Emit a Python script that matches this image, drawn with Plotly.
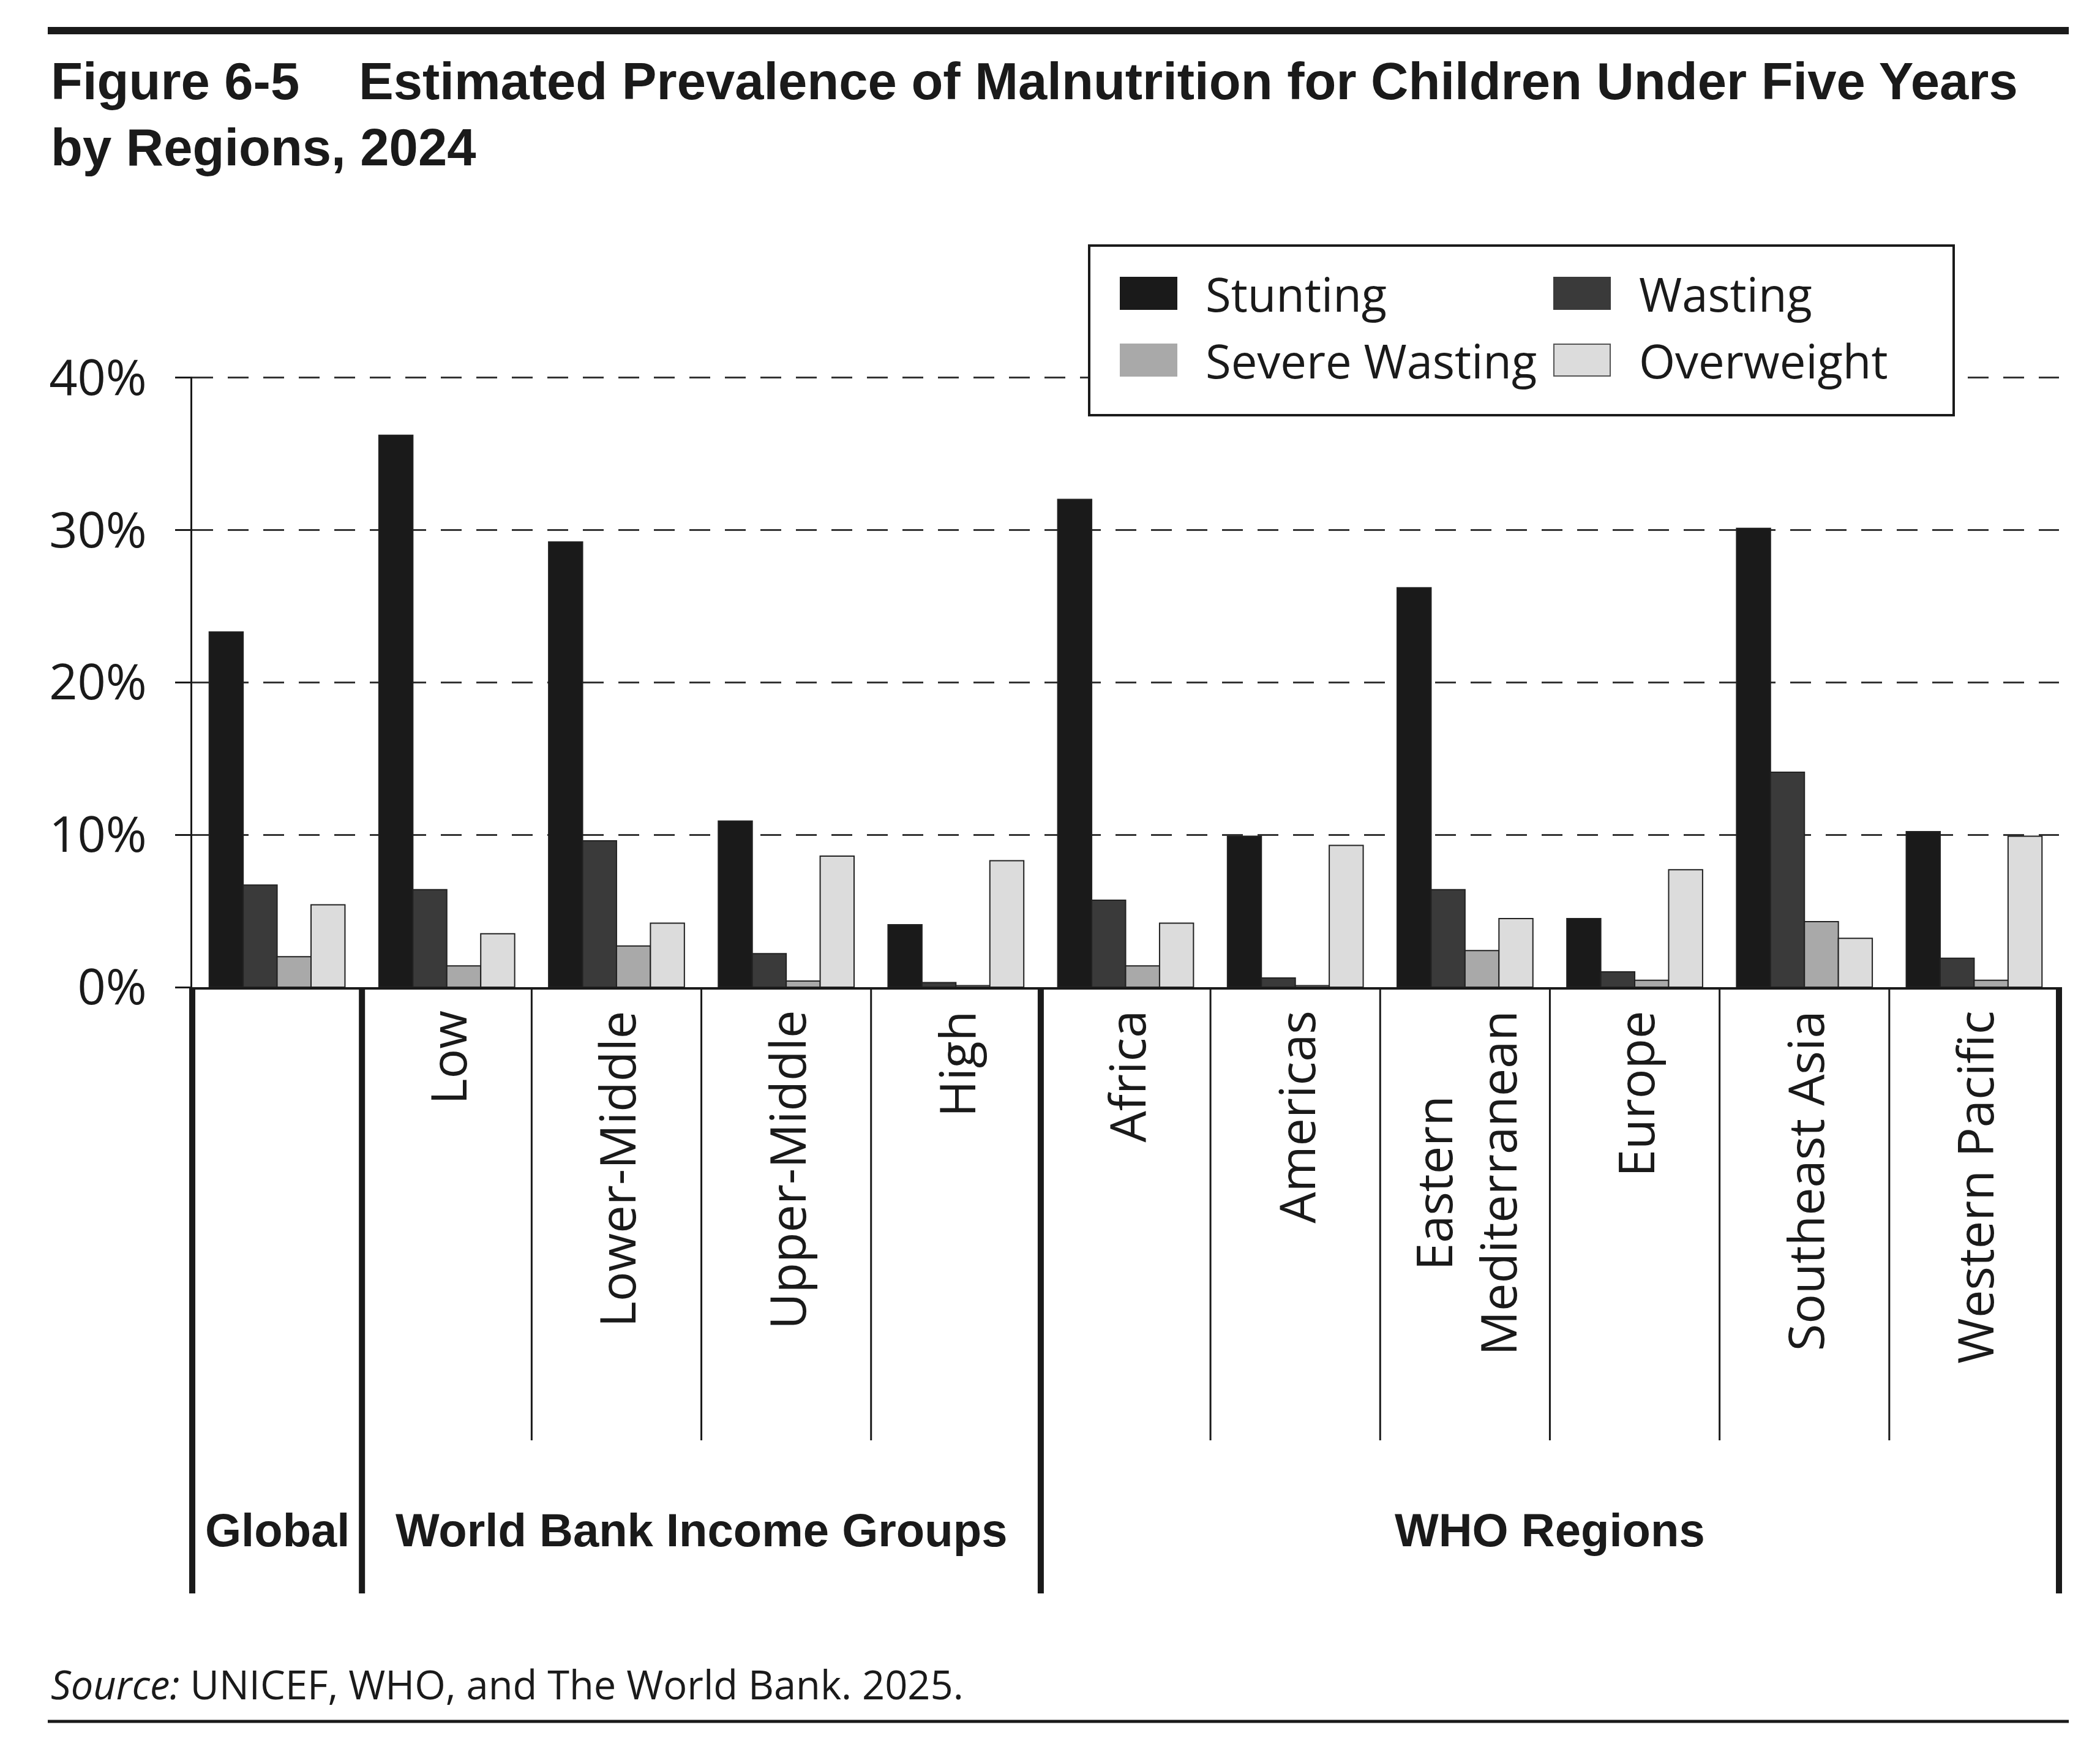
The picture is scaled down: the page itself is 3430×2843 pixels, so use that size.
import plotly.graph_objects as go

# ---------------- data ----------------
CATEGORIES = ["Global", "Low", "Lower-Middle", "Upper-Middle", "High", "Africa",
              "Americas", "Eastern Mediterranean", "Europe", "Southeast Asia", "Western Pacific"]
CAT_LABELS = ["", "Low", "Lower-Middle", "Upper-Middle", "High", "Africa",
              "Americas", "Eastern<br>Mediterranean", "Europe", "Southeast Asia", "Western Pacific"]
STUNTING = [23.3, 36.2, 29.2, 10.9, 4.1, 32.0, 9.9, 26.2, 4.5, 30.1, 10.2]
WASTING = [6.7, 6.4, 9.6, 2.2, 0.3, 5.7, 0.6, 6.4, 1.0, 14.1, 1.9]
SEVERE_WASTING = [2.0, 1.4, 2.7, 0.4, 0.1, 1.4, 0.1, 2.4, 0.45, 4.3, 0.45]
OVERWEIGHT = [5.4, 3.5, 4.2, 8.6, 8.3, 4.2, 9.3, 4.5, 7.7, 3.2, 9.9]
SERIES_NAMES = ["Stunting", "Wasting", "Severe Wasting", "Overweight"]
SERIES_COLORS = ["#1a1a1a", "#3a3a3a", "#a9a9a9", "#dcdcdc"]
Y_TICKS = [0, 10, 20, 30, 40]
Y_TICK_LABELS = ["0%", "10%", "20%", "30%", "40%"]
GROUP_NAMES = ["Global", "World Bank Income Groups", "WHO Regions"]
GROUP_SPANS = [(0, 0), (1, 4), (5, 10)]
TITLE_LABEL = "Figure 6-5"
TITLE_TEXT = "Estimated Prevalence of Malnutrition for Children Under Five Years"
TITLE_LINE2 = "by Regions, 2024"
SOURCE_TEXT = "<i>Source:</i> UNICEF, WHO, and The World Bank. 2025."

# ---------------- layout geometry (pixels) ----------------
W, H = 3430, 2843
PL, PR, PT, PB = 306, 3355, 607, 1604
N = len(CATEGORIES)
INK = "#1a1a1a"
REG = "Open Sans"
BOLD = "Liberation Sans"


def px(x):
    return (x - PL) / (PR - PL)


def py(y):
    return (PB - y) / (PB - PT)


def bx(b):  # category boundary index -> paper x
    return (b + 0.5) / N


series = [STUNTING, WASTING, SEVERE_WASTING, OVERWEIGHT]
fig = go.Figure()
for name, vals, col in zip(SERIES_NAMES, series, SERIES_COLORS):
    fig.add_trace(go.Bar(x=CATEGORIES, y=vals, name=name,
                         marker=dict(color=col, line=dict(color="#222222", width=2))))

shapes = []
# rules
shapes.append(dict(type="line", xref="paper", yref="paper", x0=px(70), x1=px(3371),
                   y0=py(42), y1=py(42), line=dict(color=INK, width=12)))
shapes.append(dict(type="line", xref="paper", yref="paper", x0=px(70), x1=px(3371),
                   y0=py(2803), y1=py(2803), line=dict(color=INK, width=5)))
# separators below axis
thick_b = [GROUP_SPANS[0][0] - 0.5] + [e + 0.5 for (s, e) in GROUP_SPANS]
thin_b = []
for (s, e) in GROUP_SPANS:
    thin_b += [i + 0.5 for i in range(s, e)]
for b in thick_b:
    shapes.append(dict(type="line", xref="paper", yref="paper", x0=bx(b), x1=bx(b),
                       y0=0, y1=py(2594), line=dict(color=INK, width=10)))
for b in thin_b:
    shapes.append(dict(type="line", xref="paper", yref="paper", x0=bx(b), x1=bx(b),
                       y0=0, y1=py(2344), line=dict(color=INK, width=3)))

annotations = []
# title
annotations.append(dict(text=TITLE_LABEL, xref="paper", yref="paper", x=px(73), y=py(125),
                        xanchor="left", yanchor="middle", showarrow=False,
                        font=dict(family=BOLD, size=85, color=INK, weight="bold")))
annotations.append(dict(text=TITLE_TEXT, xref="paper", yref="paper", x=px(576), y=py(125),
                        xanchor="left", yanchor="middle", showarrow=False,
                        font=dict(family=BOLD, size=85, color=INK, weight="bold")))
annotations.append(dict(text=TITLE_LINE2, xref="paper", yref="paper", x=px(73), y=py(233),
                        xanchor="left", yanchor="middle", showarrow=False,
                        font=dict(family=BOLD, size=85, color=INK, weight="bold")))
# category labels
for i, lab in enumerate(CAT_LABELS):
    if not lab:
        continue
    annotations.append(dict(text=lab, xref="x", yref="paper", x=i, y=py(1640),
                            xanchor="center", yanchor="top", textangle=-90, align="center",
                            showarrow=False, font=dict(family=REG, size=81, color=INK)))
# group labels
for gname, (s, e) in zip(GROUP_NAMES, GROUP_SPANS):
    annotations.append(dict(text=gname, xref="x", yref="paper", x=(s + e) / 2, y=py(2490),
                            xanchor="center", yanchor="middle", showarrow=False,
                            font=dict(family=BOLD, size=76, color=INK, weight="bold")))
# source
annotations.append(dict(text=SOURCE_TEXT, xref="paper", yref="paper", x=px(73), y=py(2742),
                        xanchor="left", yanchor="middle", showarrow=False,
                        font=dict(family=REG, size=65, color=INK)))

# custom legend
LX0, LX1, LY0, LY1 = 1771, 3183, 393, 670
shapes.append(dict(type="rect", xref="paper", yref="paper", x0=px(LX0), x1=px(LX1),
                   y0=py(LY1), y1=py(LY0), fillcolor="white", line=dict(color=INK, width=4)))
leg_pos = [(1822, 1959, 471), (2530, 2667, 471), (1822, 1959, 580), (2530, 2667, 580)]
for (sx, tx, cy), name, col in zip(leg_pos, SERIES_NAMES, SERIES_COLORS):
    shapes.append(dict(type="rect", xref="paper", yref="paper", x0=px(sx), x1=px(sx + 92),
                       y0=py(cy + 26), y1=py(cy - 26), fillcolor=col,
                       line=dict(color="#555555" if col == "#dcdcdc" else col, width=2)))
    annotations.append(dict(text=name, xref="paper", yref="paper", x=px(tx), y=py(cy),
                            xanchor="left", yanchor="middle", showarrow=False,
                            font=dict(family=REG, size=76, color=INK)))

fig.update_layout(
    width=W, height=H,
    margin=dict(l=PL, r=W - PR, t=PT, b=H - PB, pad=0),
    paper_bgcolor="white", plot_bgcolor="white",
    barmode="group", bargap=0.2, bargroupgap=0,
    showlegend=False,
    shapes=shapes, annotations=annotations,
    xaxis=dict(type="category", categoryorder="array", categoryarray=CATEGORIES,
               range=[-0.5, N - 0.5], showticklabels=False, ticks="",
               showline=True, linewidth=4, linecolor=INK, showgrid=False, zeroline=False),
    yaxis=dict(range=[0, 40.05], tickvals=Y_TICKS, ticktext=Y_TICK_LABELS,
               ticks="outside", ticklen=25, tickwidth=3, tickcolor=INK,
               showline=True, linewidth=3, linecolor=INK,
               showgrid=True, gridcolor="#333333", gridwidth=2.5, griddash="34px,24px",
               zeroline=False, ticklabelstandoff=30,
               tickfont=dict(family=REG, size=81, color=INK)),
)

fig.write_html("out.html")
